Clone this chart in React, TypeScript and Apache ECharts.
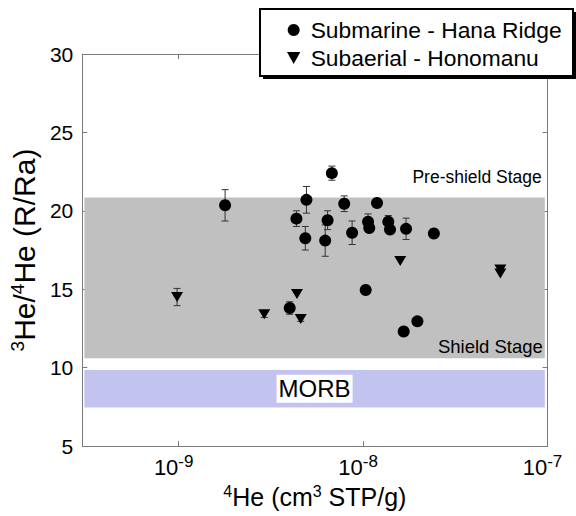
import React, { useEffect, useRef } from "react";
import * as echarts from "echarts";

// ---- data ----
const subName = "Submarine - Hana Ridge";
const aerName = "Subaerial - Honomanu";

const subHe4 = [1.785e-9, 4.35e-9, 4.93e-9, 4.86e-9, 6.77e-9, 6.42e-9, 6.23e-9, 7.9e-9, 8.72e-9, 1.19e-8, 1.064e-8, 1.08e-8, 1.37e-8, 1.4e-8, 1.71e-8, 2.42e-8, 1.033e-8, 1.97e-8, 1.66e-8, 4.0e-9];
const subRa = [20.35, 19.5, 20.7, 18.25, 22.4, 19.4, 18.1, 20.45, 18.6, 20.5, 19.3, 18.9, 19.3, 18.8, 18.85, 18.55, 14.95, 12.95, 12.3, 13.8];
const subErr = [1.0, 0.5, 0.85, 0.75, 0.45, 0.6, 1.0, 0.5, 0.75, 0, 0.5, 0, 0.4, 0, 0.68, 0, 0, 0, 0, 0.4];

const aerHe4 = [9.8e-10, 2.91e-9, 4.38e-9, 4.59e-9, 1.59e-8, 5.55e-8, 5.55e-8];
const aerRa = [14.5, 13.4, 14.7, 13.1, 16.8, 16.25, 16.0];
const aerErr = [0.55, 0.2, 0, 0.15, 0, 0, 0];

const bandNames = ["Shield Stage", "Pre-shield Stage", "MORB"];
const bandLow = [10.6, 20.85, 7.45];
const bandHigh = [20.85, 23.5, 9.85];
const bandLeft = 3.08e-10;
const bandRight = 9.67e-8;

const xMin = 3e-10;
const xMax = 1e-7;
const yMin = 5;
const yMax = 30;
const yStep = 5;

const FONT = "'Liberation Sans', Arial, Helvetica, sans-serif";
const AXIS_GRAY = "#7a7a7a";
const TRI = "path://M0,0 L10,0 L5,9 Z";

function powLabel(v: number) {
  const l = Math.log10(v);
  const e = Math.round(l);
  if (Math.abs(l - e) > 1e-6) return "";
  return `{m|10}{s|${e}}`;
}

export default function App() {
  const ref = useRef<HTMLDivElement>(null);
  useEffect(() => {
    if (!ref.current) return;
    const chart = echarts.init(ref.current, undefined, { renderer: "svg" });

    const errData = (xs: number[], ys: number[], es: number[]) =>
      xs.map((x, i) => [x, ys[i], es[i]]);

    const errSeries = (name: string, data: number[][]) => ({
      type: "custom",
      name,
      silent: true,
      encode: { x: 0, y: 1 },
      data,
      z: 2,
      renderItem: (params: any, api: any) => {
        const x = api.value(0);
        const y = api.value(1);
        const e = api.value(2);
        if (!e) return { type: "group", children: [] };
        const t = api.coord([x, y + e]);
        const b = api.coord([x, y - e]);
        const hw = 3.5;
        const st = { stroke: "#333", lineWidth: 1 };
        return {
          type: "group",
          children: [
            { type: "line", shape: { x1: t[0], y1: t[1], x2: b[0], y2: b[1] }, style: st },
            { type: "line", shape: { x1: t[0] - hw, y1: t[1], x2: t[0] + hw, y2: t[1] }, style: st },
            { type: "line", shape: { x1: b[0] - hw, y1: b[1], x2: b[0] + hw, y2: b[1] }, style: st },
          ],
        };
      },
    });

    const bandColors = ["#c0c0c0", "rgba(0,0,0,0)", "#c3c3f0"];
    const bandLabel = [
      { position: "insideBottomRight", distance: 2, fontSize: 18.5, color: "#000" },
      { position: "insideBottomRight", distance: 3, offset: [0, -8], fontSize: 17.5, color: "#000" },
      { position: "inside", fontSize: 24, color: "#000", backgroundColor: "#fff", padding: [3, 2, 1, 2] },
    ];
    const markAreaData = bandNames.map((n, i) => [
      {
        name: n,
        xAxis: bandLeft,
        yAxis: bandLow[i],
        itemStyle: { color: bandColors[i], opacity: 1 },
        label: { show: true, formatter: "{b}", fontFamily: FONT, ...bandLabel[i] },
      },
      { xAxis: bandRight, yAxis: bandHigh[i] },
    ]);

    const axisLine = { show: true, lineStyle: { color: AXIS_GRAY, width: 1 } };
    const tick = { show: true, inside: true, length: 5, lineStyle: { color: AXIS_GRAY } };

    const nameRich = (big: number, small: number, raise: number) => ({
      n: { fontSize: big, fontFamily: FONT, color: "#000" },
      s: { fontSize: small, padding: [0, 0, raise, 0], fontFamily: FONT, color: "#000" },
    });

    const option: any = {
      animation: false,
      textStyle: { fontFamily: FONT },
      grid: { left: 80.5, top: 54, width: 467, height: 392 },
      legend: {
        data: [subName, aerName],
        orient: "vertical",
        left: 282,
        top: 13.5,
        itemWidth: 24,
        itemHeight: 12,
        itemGap: 5,
        textStyle: { fontSize: 22.8, color: "#000", fontFamily: FONT, lineHeight: 22 },
        selectedMode: false,
        z: 10,
      },
      graphic: [
        { type: "rect", z: 8, shape: { x: 263, y: 12, width: 313, height: 67 }, style: { fill: "#000" } },
        { type: "rect", z: 9, shape: { x: 260, y: 9, width: 313, height: 67 }, style: { fill: "#fff", stroke: "#000", lineWidth: 2 } },
      ],
      xAxis: [
        {
          type: "log",
          logBase: 10,
          min: xMin,
          max: xMax,
          position: "bottom",
          axisLine,
          axisTick: tick,
          minorTick: { show: false },
          splitLine: { show: false },
          axisLabel: {
            formatter: powLabel,
            margin: 7,
            fontSize: 22,
            fontFamily: FONT,
            color: "#000",
            rich: {
              m: { fontSize: 22, fontFamily: FONT, color: "#000" },
              s: { fontSize: 17, padding: [0, 10, 12, 0], fontFamily: FONT, color: "#000" },
            },
          },
          name: "{s|4}{n|He (cm}{s|3}{n| STP/g)}",
          nameLocation: "middle",
          nameGap: 37,
          nameTextStyle: { fontSize: 25, color: "#000", fontFamily: FONT, rich: nameRich(25, 16, 12) },
        },
        {
          type: "log",
          logBase: 10,
          min: xMin,
          max: xMax,
          position: "top",
          axisLine,
          axisTick: tick,
          minorTick: { show: false },
          splitLine: { show: false },
          axisLabel: { show: false },
        },
      ],
      yAxis: [
        {
          type: "value",
          min: yMin,
          max: yMax,
          interval: yStep,
          position: "left",
          axisLine,
          axisTick: tick,
          splitLine: { show: false },
          axisLabel: { fontSize: 21, color: "#000", margin: 9, fontFamily: FONT },
          name: "{s|3}{n|He/}{s|4}{n|He (R/Ra)}",
          nameLocation: "middle",
          nameRotate: 90,
          nameGap: 42,
          nameTextStyle: { fontSize: 30, color: "#000", fontFamily: FONT, rich: nameRich(30, 19, 13) },
        },
        {
          type: "value",
          min: yMin,
          max: yMax,
          interval: yStep,
          position: "right",
          axisLine,
          axisTick: tick,
          splitLine: { show: false },
          axisLabel: { show: false },
        },
      ],
      series: [
        errSeries("subErr", errData(subHe4, subRa, subErr)),
        errSeries("aerErr", errData(aerHe4, aerRa, aerErr)),
        {
          type: "scatter",
          name: subName,
          symbol: "circle",
          symbolSize: 12,
          itemStyle: { color: "#000", opacity: 1 },
          z: 3,
          data: subHe4.map((x, i) => [x, subRa[i]]),
          markArea: { silent: true, z: 1, data: markAreaData },
        },
        {
          type: "scatter",
          name: aerName,
          symbol: TRI,
          symbolSize: [12, 10],
          itemStyle: { color: "#000", opacity: 1 },
          z: 3,
          data: aerHe4.map((x, i) => [x, aerRa[i]]),
        },
      ],
    };
    chart.setOption(option);
    return () => chart.dispose();
  }, []);
  return <div ref={ref} style={{ width: 576, height: 516, position: "absolute", left: 0, top: 0 }} />;
}
